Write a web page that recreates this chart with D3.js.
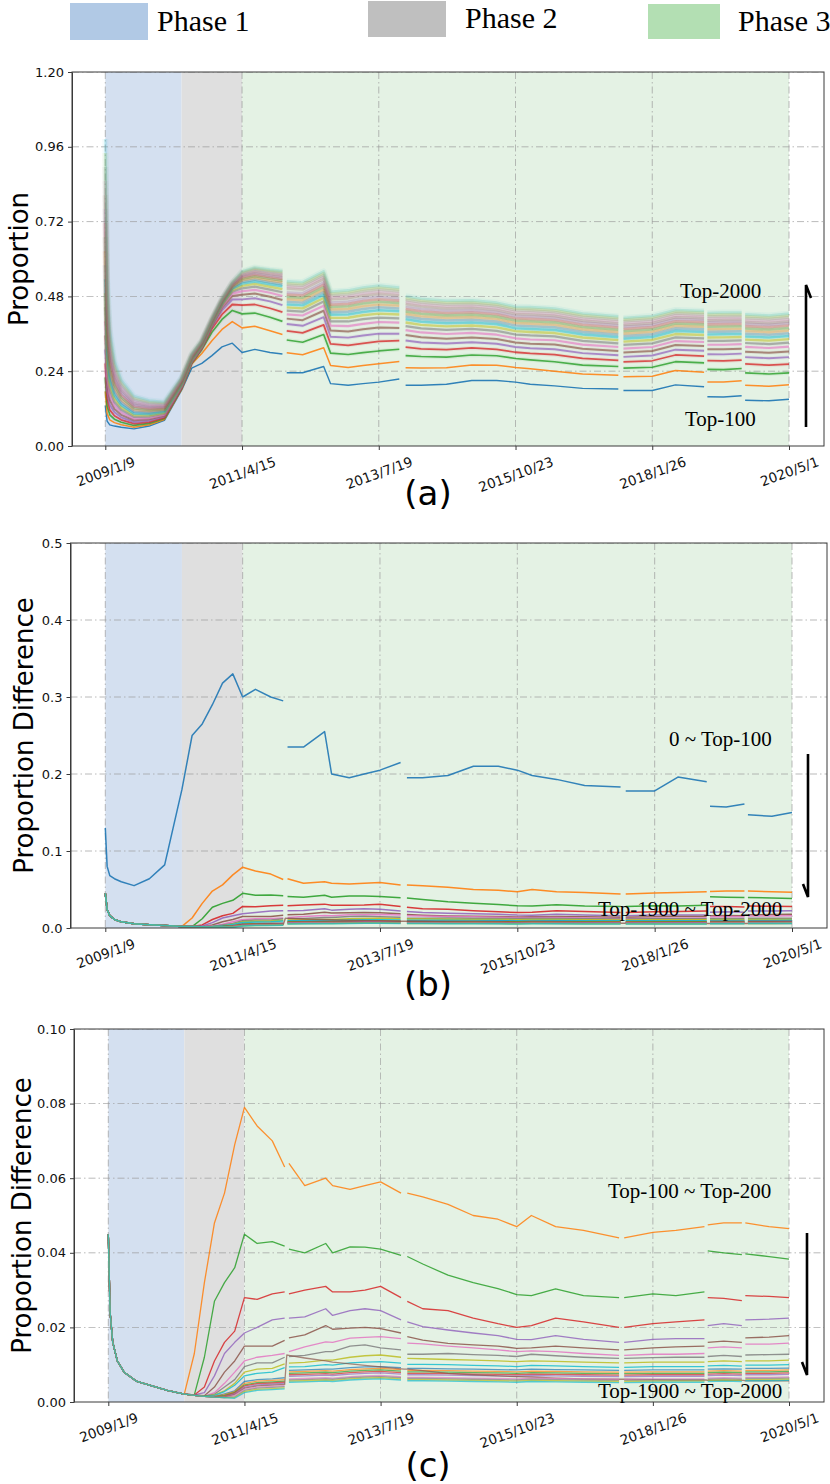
<!DOCTYPE html>
<html><head><meta charset="utf-8">
<script src="https://cdn.jsdelivr.net/npm/d3@7"></script>
<style>body{margin:0;background:#fff}svg{display:block}</style>
</head><body>
<svg id="chart" width="830" height="1484"></svg>
<script>
// ---------------- DATA ----------------
const dates = ["2009-01-09","2009-01-20","2009-02-05","2009-03-05","2009-04-15","2009-07-01","2009-10-01","2010-01-01","2010-04-15",
"2010-06-15","2010-08-15","2010-10-15","2010-12-15","2011-02-15","2011-04-15","2011-07-01","2011-10-01","2011-12-15",
"2011-12-28","2012-01-10","2012-04-15","2012-08-20","2012-10-01","2013-01-15","2013-04-15","2013-07-19","2013-11-20",
"2013-12-10","2013-12-28","2014-04-01","2014-09-01","2015-02-01","2015-07-01","2015-10-23","2016-01-20","2016-06-15","2016-12-01","2017-07-05",
"2017-07-20","2017-08-05","2018-01-26","2018-06-15","2018-12-05","2018-12-15","2018-12-25","2019-04-01","2019-07-20","2019-07-30","2019-08-10","2020-01-01","2020-05-01"];

// proportion differences between consecutive Top-k groups (0~Top-100, Top-100~Top-200, ... Top-1900~Top-2000)
const s01 = [0.13,0.08,0.068,0.064,0.06,0.055,0.064,0.082,0.18, 0.25,0.265,0.29,0.318,0.33,0.30,0.31,0.30,0.295, null,
 0.235,0.235,0.255,0.20,0.195,0.20,0.205,0.215, null, 0.195,0.195,0.198,0.21,0.21,0.205,0.198,0.193,0.185,0.183, null,
 0.178,0.178,0.196,0.19, null, 0.158,0.157,0.161, null, 0.147,0.145,0.15];
const s02 = [0.045,0.024,0.016,0.011,0.008,0.0055,0.0043,0.0031,0.0021, 0.013,0.032,0.048,0.056,0.069,0.079,0.074,0.070,0.063, null,
 0.064,0.058,0.060,0.058,0.057,0.058,0.059,0.056, null, 0.056,0.055,0.053,0.050,0.049,0.047,0.050,0.047,0.046,0.044, null,
 0.044,0.0455,0.046,0.047, null, 0.0475,0.048,0.048, null, 0.048,0.047,0.0465];
const s03 = [0.045,0.024,0.016,0.011,0.008,0.0055,0.0043,0.0031,0.0021, 0.0019,0.012,0.027,0.032,0.036,0.045,0.0425,0.043,0.0418, null,
 0.041,0.040,0.0425,0.040,0.0416,0.0415,0.041,0.0393, null, 0.039,0.037,0.034,0.032,0.0304,0.0288,0.0285,0.0303,0.0285,0.028, null,
 0.028,0.029,0.0285,0.0295, null, 0.0405,0.040,0.0395, null, 0.0397,0.039,0.0383];
const s04 = [0.045,0.024,0.016,0.011,0.008,0.0055,0.0043,0.0031,0.0021, 0.0019,0.004,0.011,0.016,0.019,0.028,0.0275,0.029,0.0295, null,
 0.029,0.030,0.031,0.0295,0.0295,0.030,0.031,0.028, null, 0.027,0.025,0.0245,0.0225,0.021,0.020,0.0205,0.0225,0.0215,0.020, null,
 0.020,0.021,0.0215,0.022, null, 0.028,0.0278,0.0272, null, 0.0285,0.0283,0.028];
const s05 = [0.045,0.024,0.016,0.011,0.008,0.0055,0.0043,0.0031,0.0021, 0.0019,0.0025,0.007,0.013,0.016,0.0185,0.020,0.022,0.0225, null,
 0.0225,0.0228,0.025,0.0232,0.0245,0.025,0.0245,0.022, null, 0.0215,0.0202,0.0193,0.0185,0.0178,0.0168,0.0167,0.0178,0.0168,0.016, null,
 0.016,0.0168,0.017,0.017, null, 0.0205,0.021,0.0205, null, 0.022,0.0222,0.0225];
const s06 = [0.045,0.024,0.016,0.011,0.008,0.0055,0.0043,0.0031,0.0021, 0.0019,0.0017,0.004,0.008,0.011,0.015,0.015,0.015,0.0165, null,
 0.0172,0.018,0.0205,0.0195,0.0198,0.020,0.0197,0.0185, null, 0.0175,0.0166,0.0157,0.0153,0.015,0.0144,0.0145,0.015,0.0145,0.014, null,
 0.014,0.0145,0.0148,0.015, null, 0.016,0.0163,0.016, null, 0.0172,0.0174,0.0178];
const s07 = [0.045,0.024,0.016,0.011,0.008,0.0055,0.0043,0.0031,0.0021, 0.0018,0.0016,0.0025,0.005,0.008,0.011,0.012,0.0125,0.013, null,
 0.0135,0.0148,0.0161,0.016,0.0171,0.0173,0.0175,0.017, null, 0.0158,0.0156,0.015,0.0145,0.014,0.0135,0.0137,0.0135,0.013,0.0125, null,
 0.0125,0.0128,0.0128,0.013, null, 0.0145,0.0148,0.0145, null, 0.0155,0.0155,0.0158];
const s08 = [0.045,0.024,0.016,0.011,0.008,0.0055,0.0043,0.0031,0.0021, 0.0018,0.0016,0.0021,0.004,0.006,0.0095,0.0105,0.0105,0.012, null,
 0.0122,0.0125,0.0135,0.0135,0.015,0.0153,0.0145,0.014, null, 0.0128,0.0128,0.013,0.0127,0.0125,0.0122,0.0128,0.0124,0.012,0.0117, null,
 0.0117,0.0119,0.012,0.012, null, 0.0122,0.0125,0.0122, null, 0.0126,0.0127,0.0128];
const s09 = [0.045,0.024,0.016,0.011,0.008,0.0055,0.0043,0.0031,0.0021, 0.0018,0.0016,0.0019,0.003,0.005,0.008,0.0088,0.009,0.0102, null,
 0.0104,0.0106,0.0112,0.0112,0.012,0.0124,0.0126,0.012, null, 0.0117,0.0116,0.0114,0.0112,0.011,0.0108,0.011,0.0109,0.0107,0.0105, null,
 0.0105,0.0107,0.0107,0.0107, null, 0.0108,0.011,0.0108, null, 0.011,0.011,0.0112];
const s10 = [0.045,0.024,0.016,0.011,0.008,0.0055,0.0043,0.0031,0.0021, 0.0018,0.0016,0.0018,0.0028,0.0045,0.007,0.0077,0.008,0.0092, null,
 0.0094,0.0095,0.010,0.0099,0.0105,0.0107,0.0108,0.0104, null, 0.0101,0.0101,0.010,0.0098,0.0097,0.0095,0.0098,0.0097,0.0095,0.0093, null,
 0.0093,0.0095,0.0095,0.0095, null, 0.0097,0.0098,0.0096, null, 0.0099,0.0099,0.010];
const s11 = [0.045,0.024,0.016,0.011,0.008,0.0055,0.0043,0.0031,0.0021, 0.0018,0.0016,0.0015,0.0022,0.003,0.0055,0.006,0.0062,0.0065, null,
 0.0085,0.0086,0.0088,0.0088,0.0092,0.0094,0.0095,0.0092, null, 0.009,0.009,0.0089,0.0088,0.0087,0.0086,0.0088,0.0087,0.0086,0.0085, null,
 0.0085,0.0086,0.0086,0.0086, null, 0.0088,0.0089,0.0088, null, 0.009,0.009,0.0091];
const s12 = [0.045,0.024,0.016,0.011,0.008,0.0055,0.0043,0.0031,0.0021, 0.0018,0.0016,0.0015,0.002,0.0028,0.005,0.0056,0.0058,0.006, null,
 0.0081,0.0082,0.0084,0.0083,0.0087,0.0089,0.009,0.0087, null, 0.0085,0.0085,0.0084,0.0083,0.0082,0.0081,0.0083,0.0082,0.0081,0.008, null,
 0.008,0.0081,0.0081,0.0081, null, 0.0083,0.0084,0.0083, null, 0.0085,0.0085,0.0086];
const s13 = [0.045,0.024,0.016,0.011,0.008,0.0055,0.0043,0.0031,0.0021, 0.0018,0.0016,0.0014,0.0018,0.0026,0.0046,0.0052,0.0054,0.0056, null,
 0.0077,0.0078,0.008,0.0079,0.0083,0.0085,0.0086,0.0083, null, 0.0081,0.0081,0.008,0.0079,0.0078,0.0077,0.0079,0.0078,0.0077,0.0076, null,
 0.0076,0.0077,0.0077,0.0077, null, 0.0079,0.008,0.0079, null, 0.0081,0.0081,0.0082];
const s14 = [0.045,0.024,0.016,0.011,0.008,0.0055,0.0043,0.0031,0.0021, 0.0018,0.0015,0.0014,0.0016,0.0024,0.0043,0.0049,0.0051,0.0053, null,
 0.0073,0.0074,0.0076,0.0075,0.0079,0.0081,0.0082,0.0079, null, 0.0077,0.0077,0.0076,0.0075,0.0074,0.0073,0.0075,0.0074,0.0073,0.0072, null,
 0.0072,0.0073,0.0073,0.0073, null, 0.0075,0.0076,0.0075, null, 0.0077,0.0077,0.0078];
const s15 = [0.045,0.024,0.016,0.011,0.008,0.0055,0.0043,0.0031,0.0021, 0.0018,0.0015,0.0013,0.0014,0.0022,0.004,0.0046,0.0048,0.005, null,
 0.0069,0.007,0.0072,0.0071,0.0075,0.0077,0.0078,0.0075, null, 0.0073,0.0073,0.0072,0.0071,0.007,0.0069,0.0071,0.007,0.0069,0.0068, null,
 0.0068,0.0069,0.0069,0.0069, null, 0.0071,0.0072,0.0071, null, 0.0073,0.0073,0.0074];
const s16 = [0.045,0.024,0.016,0.011,0.008,0.0055,0.0043,0.0031,0.0021, 0.0018,0.0015,0.0013,0.0013,0.002,0.0037,0.0043,0.0045,0.0047, 0.0126,
 0.0125,0.0118,0.011,0.0107,0.0102,0.0098,0.0094,0.0089, 0.0088, 0.0088,0.0084,0.0077,0.0073,0.007,0.0068,0.0067,0.0064,0.0062,0.0061, 0.0061,
 0.0061,0.006,0.0059,0.0059, 0.0059, 0.0058,0.0058,0.0058, 0.0058, 0.0057,0.0057,0.0057];
const s17 = [0.045,0.024,0.016,0.011,0.008,0.0055,0.0043,0.0031,0.0021, 0.0018,0.0015,0.0013,0.0012,0.0018,0.0034,0.004,0.0042,0.0044, null,
 0.0062,0.0063,0.0065,0.0064,0.0068,0.007,0.0071,0.0068, null, 0.0066,0.0066,0.0065,0.0064,0.0063,0.0062,0.0064,0.0063,0.0062,0.0061, null,
 0.0061,0.0062,0.0062,0.0062, null, 0.0064,0.0065,0.0064, null, 0.0066,0.0066,0.0067];
const s18 = [0.045,0.024,0.016,0.011,0.008,0.0055,0.0043,0.0031,0.0021, 0.0018,0.0015,0.0013,0.0012,0.0014,0.0031,0.0037,0.0039,0.0041, null,
 0.0059,0.006,0.0062,0.0061,0.0065,0.0067,0.0068,0.0065, null, 0.0063,0.0063,0.0062,0.0061,0.006,0.0059,0.0061,0.006,0.0059,0.0058, null,
 0.0058,0.0059,0.0059,0.0059, null, 0.0061,0.0062,0.0061, null, 0.0063,0.0063,0.0064];
const s19 = [0.045,0.024,0.016,0.011,0.008,0.0055,0.0043,0.0031,0.0021, 0.0018,0.0015,0.0013,0.0012,0.0012,0.0028,0.0034,0.0036,0.0038, null,
 0.0056,0.0057,0.0059,0.0058,0.0062,0.0064,0.0065,0.0062, null, 0.006,0.006,0.0059,0.0058,0.0057,0.0056,0.0058,0.0057,0.0056,0.0055, null,
 0.0055,0.0056,0.0056,0.0056, null, 0.0058,0.0059,0.0058, null, 0.006,0.006,0.0061];
const s20 = [0.045,0.024,0.016,0.011,0.008,0.0055,0.0043,0.0031,0.0021, 0.0018,0.0015,0.0013,0.0012,0.001,0.0025,0.0031,0.0033,0.0035, null,
 0.0053,0.0054,0.0056,0.0055,0.0059,0.0061,0.0062,0.0059, null, 0.0057,0.0057,0.0056,0.0055,0.0054,0.0053,0.0055,0.0054,0.0053,0.0052, null,
 0.0052,0.0053,0.0053,0.0053, null, 0.0055,0.0056,0.0055, null, 0.0057,0.0057,0.0058];

const xTickDates  = ["2009-01-09","2011-04-15","2013-07-19","2015-10-23","2018-01-26","2020-05-01"];
const xTickLabels = ["2009/1/9","2011/4/15","2013/7/19","2015/10/23","2018/1/26","2020/5/1"];
const yTicksA = [0, 0.24, 0.48, 0.72, 0.96, 1.20];
const yTicksB = [0, 0.1, 0.2, 0.3, 0.4, 0.5];
const yTicksC = [0, 0.02, 0.04, 0.06, 0.08, 0.10];
const phaseNames  = ["Phase 1", "Phase 2", "Phase 3"];
const phaseStarts = ["2009-01-09", "2010-04-15", "2011-04-15"];
const phaseEnds   = ["2010-04-15", "2011-04-15", "2020-05-01"];

// ---------------- DRAWING ----------------
const tab10 = ["#1f77b4","#ff7f0e","#2ca02c","#d62728","#9467bd","#8c564b","#e377c2","#7f7f7f","#bcbd22","#17becf"];
const bandFill = ["#d4e0f0", "#dfdfdf", "#e4f2e4"];
const legendFill = ["#b1c9e5", "#bfbfbf", "#b3dfb3"];
const parse = d3.timeParse("%Y-%m-%d");
const T = dates.map(parse);
const diffs = [s01,s02,s03,s04,s05,s06,s07,s08,s09,s10,s11,s12,s13,s14,s15,s16,s17,s18,s19,s20];
// cumulative proportions (Top-100 ... Top-2000) for panel (a)
const cum = diffs.map((s, k) => s.map((v, j) => {
  let t = 0;
  for (let m = 0; m <= k; m++) { const u = diffs[m][j]; if (u == null) return null; t += u; }
  return t;
}));

const svg = d3.select("#chart");
const sans = "DejaVu Sans, Verdana, sans-serif";
const serif = "Liberation Serif, Times New Roman, serif";

// legend
const legendRects = [[70,3,78,37],[368,1,78,36],[648,4,72,35]];
const legendText = [[157,31],[465,28],[738,31]];
phaseNames.forEach((n, i) => {
  svg.append("rect").attr("x", legendRects[i][0]).attr("y", legendRects[i][1])
    .attr("width", legendRects[i][2]).attr("height", legendRects[i][3]).attr("fill", legendFill[i]);
  svg.append("text").attr("x", legendText[i][0]).attr("y", legendText[i][1])
    .attr("font-family", serif).attr("font-size", 30).attr("fill", "#000").text(n);
});

function drawPanel(p) {
  const g = svg.append("g");
  const x = d3.scaleTime().domain([parse(xTickDates[0]), parse(xTickDates[xTickDates.length-1])]).range([p.x0, p.x1]);
  const y = d3.scaleLinear().domain([0, p.ymax]).range([p.bottom, p.top]);
  const clipId = "clip" + p.id;
  svg.append("clipPath").attr("id", clipId).append("rect")
    .attr("x", p.left).attr("y", p.top).attr("width", p.right - p.left).attr("height", p.bottom - p.top);
  const pg = g.append("g").attr("clip-path", `url(#${clipId})`);

  phaseNames.forEach((n, i) => {
    const a = x(parse(phaseStarts[i])), b = x(parse(phaseEnds[i]));
    pg.append("rect").attr("x", a).attr("y", p.top).attr("width", b - a).attr("height", p.bottom - p.top).attr("fill", bandFill[i]);
  });
  // grid
  const gridStyle = s => s.attr("stroke", "#9a9a9a").attr("stroke-width", 0.8).attr("stroke-dasharray", "7,3,1.5,3").attr("opacity", 0.85);
  p.yticks.forEach(t => { if (t > 0) gridStyle(pg.append("line").attr("x1", p.left).attr("x2", p.right).attr("y1", y(t)).attr("y2", y(t))); });
  xTickDates.forEach(d => gridStyle(pg.append("line").attr("x1", x(parse(d))).attr("x2", x(parse(d))).attr("y1", p.top).attr("y2", p.bottom)));

  const line = d3.line().defined(d => d[1] != null).x(d => x(d[0])).y(d => y(d[1]));
  p.series.forEach((vals, k) => {
    const idx = p.offset + k;
    const pts = vals.map((v, j) => [T[j], v]);
    const st = p.style(idx);
    if (st.halo) pg.append("path").attr("d", line(pts)).attr("fill", "none").attr("stroke", tab10[idx % 10])
      .attr("stroke-width", st.halo).attr("stroke-opacity", st.haloOp).attr("stroke-linejoin", "round");
    pg.append("path").attr("d", line(pts)).attr("fill", "none").attr("stroke", tab10[idx % 10])
      .attr("stroke-width", st.w).attr("stroke-opacity", st.op).attr("stroke-linejoin", "round");
  });

  // frame
  g.append("rect").attr("x", p.left).attr("y", p.top).attr("width", p.right - p.left).attr("height", p.bottom - p.top)
    .attr("fill", "none").attr("stroke", "#3a3a3a").attr("stroke-width", 1);
  // y axis
  const ya = g.append("g").attr("transform", `translate(${p.left},0)`)
    .call(d3.axisLeft(y).tickValues(p.yticks).tickFormat(d3.format(p.fmt)).tickSize(4).tickPadding(4).tickSizeOuter(0));
  ya.select(".domain").attr("stroke", "#3a3a3a");
  ya.selectAll("line").attr("stroke", "#3a3a3a");
  ya.selectAll("text").attr("font-family", sans).attr("font-size", 13).attr("fill", "#111");
  // x axis
  const xa = g.append("g").attr("transform", `translate(0,${p.bottom})`)
    .call(d3.axisBottom(x).tickValues(xTickDates.map(parse)).tickFormat((d, i) => xTickLabels[i]).tickSize(4).tickSizeOuter(0));
  xa.select(".domain").remove();
  xa.selectAll("line").attr("stroke", "#3a3a3a");
  xa.selectAll("text").attr("font-family", sans).attr("font-size", 13.6).attr("fill", "#111")
    .attr("text-anchor", "middle").attr("dy", "0.35em")
    .each(function () {
      const w = this.getComputedTextLength();
      const cy = 8 + (w * Math.sin(20 * Math.PI / 180) + 15 * Math.cos(20 * Math.PI / 180)) / 2;
      d3.select(this).attr("y", cy).attr("transform", `rotate(-20,0,${cy})`);
    });
  // y title
  g.append("text").attr("transform", `translate(${p.titleX},${(p.top + p.bottom) / 2}) rotate(-90)`)
    .attr("text-anchor", "middle").attr("font-family", sans).attr("font-size", 26).attr("fill", "#000").text(p.title);
  // panel label
  g.append("text").attr("x", 428).attr("y", p.labelY).attr("text-anchor", "middle")
    .attr("font-family", sans).attr("font-size", 34).attr("fill", "#000").text(p.label);
  // annotations
  p.notes.forEach(n => g.append("text").attr("x", n[0]).attr("y", n[1]).attr("font-family", serif)
    .attr("font-size", 21).attr("fill", "#000").text(n[2]));
  g.append("path").attr("d", p.arrow).attr("fill", "none").attr("stroke", "#000").attr("stroke-width", 2.6);
}

drawPanel({
  id: "a", left: 72, right: 824, top: 72, bottom: 446, x0: 105.3, x1: 789, ymax: 1.2, yticks: yTicksA, fmt: ".2f",
  series: cum, offset: 0, title: "Proportion", titleX: 28, label: "(a)", labelY: 505,
  style: i => i < 10 ? { w: 1.4 + i * 0.12, op: 0.92 - i * 0.05, halo: i >= 2 ? 4 : 0, haloOp: 0.08 }
                     : { w: 2.6, op: 0.3 - (i - 10) * 0.015, halo: 6, haloOp: 0.06 },
  notes: [[680, 298, "Top-2000"], [685, 426, "Top-100"]],
  arrow: "M806,427 L806,285 L811,298"
});
drawPanel({
  id: "b", left: 70.5, right: 827, top: 543, bottom: 928, x0: 105.3, x1: 792, ymax: 0.5, yticks: yTicksB, fmt: ".1f",
  series: diffs, offset: 0, title: "Proportion Difference", titleX: 33, label: "(b)", labelY: 996,
  style: i => ({ w: 1.5, op: i < 10 ? 0.9 : 0.75 }),
  notes: [[669, 746, "0 ~ Top-100"], [598, 916, "Top-1900 ~ Top-2000"]],
  arrow: "M808,754 L808,897 L803,884"
});
drawPanel({
  id: "c", left: 74, right: 824, top: 1029, bottom: 1402, x0: 108.3, x1: 789, ymax: 0.1, yticks: yTicksC, fmt: ".2f",
  series: diffs.slice(1), offset: 1, title: "Proportion Difference", titleX: 31, label: "(c)", labelY: 1477,
  style: i => ({ w: 1.3, op: i < 10 ? 0.85 : 0.7 }),
  notes: [[608, 1198, "Top-100 ~ Top-200"], [598, 1398, "Top-1900 ~ Top-2000"]],
  arrow: "M807,1233 L807,1375 L802,1362"
});
</script>
</body></html>
